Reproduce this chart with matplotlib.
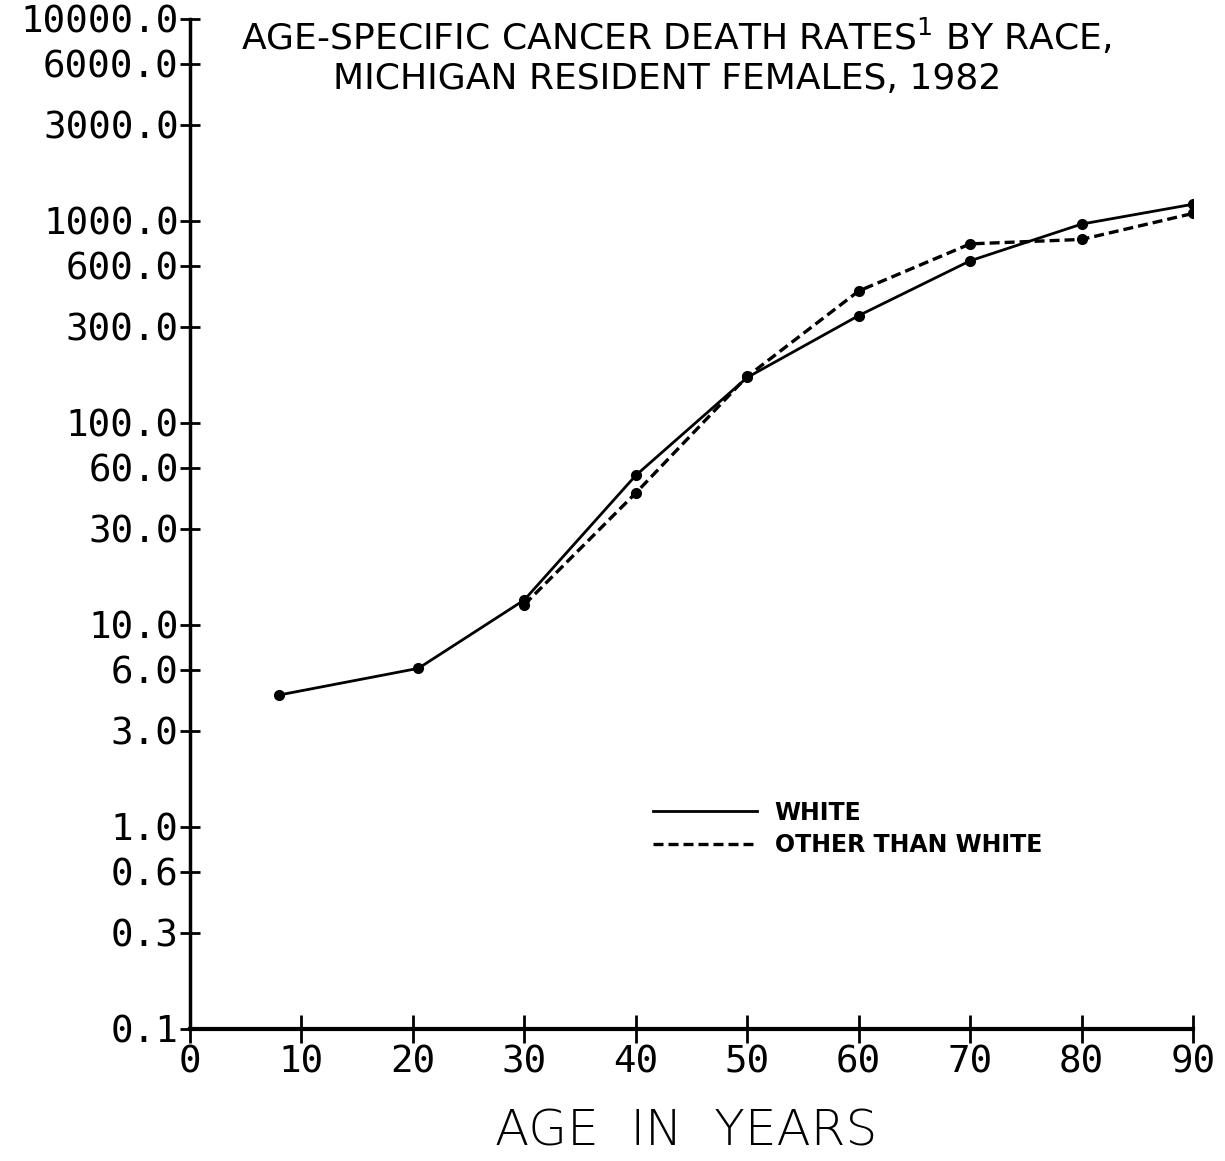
import matplotlib
matplotlib.use("Agg")
import matplotlib.pyplot as plt
from matplotlib.ticker import FixedLocator, NullLocator

# ages (x) and rates per 100,000 (y)
white_age = [8, 20.5, 30, 40, 50, 60, 70, 80, 90]
white_rate = [4.5, 6.1, 13.3, 55, 168, 340, 635, 965, 1210]
other_age = [30, 40, 50, 60, 70, 80, 90]
other_rate = [12.6, 45, 170, 450, 770, 810, 1090]

yticks = [0.1, 0.3, 0.6, 1.0, 3.0, 6.0, 10.0, 30.0, 60.0, 100.0,
          300.0, 600.0, 1000.0, 3000.0, 6000.0, 10000.0]
xticks = [0, 10, 20, 30, 40, 50, 60, 70, 80, 90]

mono = ["DejaVu Sans Mono"]

fig = plt.figure(figsize=(12.25, 11.61), dpi=100)
ax = fig.add_axes([0.155, 0.1137, 0.819, 0.87])

ax.plot(white_age, white_rate, color="black", lw=2, marker="o", ms=7,
        label="WHITE")
ax.plot(other_age, other_rate, color="black", lw=2.4, ls=(0, (3, 1.5)),
        marker="o", ms=7, label="OTHER THAN WHITE")

ax.set_yscale("log")
ax.set_xlim(0, 90)
ax.set_ylim(0.1, 10000)
ax.yaxis.set_major_locator(FixedLocator(yticks))
ax.yaxis.set_minor_locator(NullLocator())
ax.set_yticklabels(["%.1f" % v for v in yticks], family=mono, fontsize=27)
ax.set_xticks(xticks)
ax.set_xticklabels([str(v) for v in xticks], family=mono, fontsize=27)

for s in ["top", "right"]:
    ax.spines[s].set_visible(False)
ax.spines["left"].set_linewidth(2.5)
ax.spines["bottom"].set_linewidth(3)
ax.tick_params(axis="y", direction="inout", length=14, width=2, pad=1)
ax.tick_params(axis="x", direction="inout", length=20, width=2, pad=1)

# legend: lines 653-757 px, rows at ~814 and ~850 px
leg = ax.legend(loc="upper left", bbox_to_anchor=(0.4616, 0.2262),
                frameon=False, borderpad=0, borderaxespad=0,
                handlelength=4.4, handletextpad=0.75, labelspacing=0.38,
                prop={"family": "DejaVu Sans", "weight": "bold", "size": 17})
for h in leg.legend_handles:
    h.set_marker("")

fig.text(0.552, 0.968, r"AGE-SPECIFIC CANCER DEATH RATES$^{1}$ BY RACE,",
         ha="center", va="center", fontsize=26, family="DejaVu Sans")
fig.text(0.545, 0.932, "MICHIGAN RESIDENT FEMALES, 1982",
         ha="center", va="center", fontsize=26, family="DejaVu Sans")

fig.text(0.56, 0.025, "AGE  IN  YEARS", ha="center", va="center",
         fontsize=36, family="DejaVu Sans", fontweight="light")

fig.savefig("out.png", dpi=100)
